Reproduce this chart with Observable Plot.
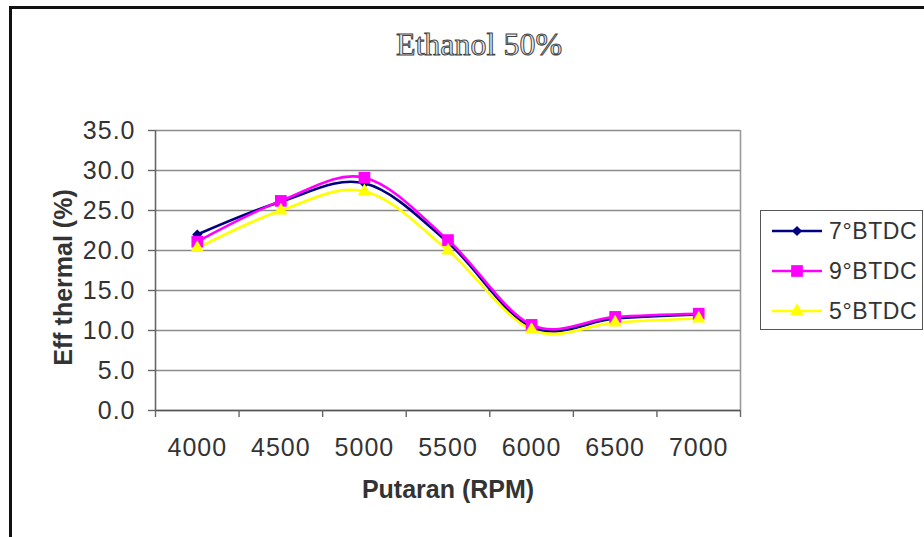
<!DOCTYPE html>
<html>
<head>
<meta charset="utf-8">
<script src="https://cdn.jsdelivr.net/npm/d3@7"></script>
<script src="https://cdn.jsdelivr.net/npm/@observablehq/plot@0.6"></script>
<style>
  html, body { margin: 0; padding: 0; background: #fff; }
  #wrap { position: relative; width: 924px; height: 537px; overflow: hidden; font-family: "Liberation Sans", Arial, sans-serif; }
  #border { position: absolute; left: 9px; top: 6px; width: 940px; height: 560px; border-left: 3px solid #111; border-top: 3px solid #111; }
  #title { position: absolute; left: 0; width: 958px; top: 26px; text-align: center; font-family: "Liberation Serif", "DejaVu Serif", serif; font-size: 32px; color: #eee; -webkit-text-stroke: 1px #444; }
  #chart { position: absolute; left: 0; top: 0; }
  #legend { position: absolute; left: 760px; top: 210px; width: 161px; height: 118px; border: 1.5px solid #555; background: #fff; }
  #legend .row { position: absolute; left: 0; height: 40px; display: flex; align-items: center; }
  #legend .row span { font-size: 23px; color: #333; margin-left: 4px; letter-spacing: 0.6px; }
</style>
</head>
<body>
<div id="wrap">
  <div id="border"></div>
  <div id="chart"></div>
  <div id="title">Ethanol 50%</div>
  <div id="legend"></div>
</div>
<script>
// ---- data ----
const rpm = [4000, 4500, 5000, 5500, 6000, 6500, 7000];
const btdc7 = [22.0, 26.1, 28.4, 21.0, 10.4, 11.5, 12.0];
const btdc9 = [21.1, 26.2, 29.1, 21.3, 10.7, 11.7, 12.1];
const btdc5 = [20.3, 25.0, 27.4, 20.0, 10.1, 11.0, 11.5];
const seriesNames = ["7°BTDC", "9°BTDC", "5°BTDC"];
const seriesColors = ["#000080", "#FF00FF", "#FFFF00"];
const seriesSymbols = ["diamond2", "square", "triangle"];
const seriesR = [4.6, 6.6, 5.0];
const yTicks = [0, 5, 10, 15, 20, 25, 30, 35];
const titleText = "Ethanol 50%";
const yLabel = "Eff thermal (%)";
const xLabel = "Putaran (RPM)";

const seriesValues = [btdc7, btdc9, btdc5];
const rows = [];
seriesNames.forEach((name, i) => {
  rpm.forEach((r, j) => rows.push({series: name, rpm: r, value: seriesValues[i][j]}));
});
const half = (rpm[1] - rpm[0]) / 2;
const xEdges = rpm.map(d => d - half).concat([rpm[rpm.length - 1] + half]);

const marks = [
  Plot.ruleY(yTicks, {stroke: "#8a8a8a", strokeWidth: 1.6}),
  Plot.ruleX([xEdges[xEdges.length - 1]], {stroke: "#9a9a9a", strokeWidth: 1.6}),
  Plot.ruleX([xEdges[0]], {stroke: "#666", strokeWidth: 1.6}),
  Plot.ruleY([0], {stroke: "#555", strokeWidth: 1.6}),
  Plot.axisY({ticks: yTicks, tickFormat: d => d.toFixed(1), tickSize: 7, tickPadding: 13, fontSize: 25, stroke: "#666", strokeWidth: 1.4, fill: "#333", label: null}),
  Plot.axisX({ticks: xEdges, tickFormat: () => "", tickSize: 7, stroke: "#666", strokeWidth: 1.4, label: null}),
  Plot.axisX({ticks: rpm, tickFormat: d => String(d), tickSize: 0, tickPadding: 28, fontSize: 25, fill: "#333", label: null}),
  Plot.text([yLabel], {frameAnchor: "left", textAnchor: "middle", dx: -92, dy: 7, rotate: -90, fontSize: 25, fontWeight: "bold", fill: "#333"}),
  Plot.text([xLabel], {frameAnchor: "bottom", lineAnchor: "middle", dy: 79, fontSize: 25, fontWeight: "bold", fill: "#333"})
];
seriesNames.forEach((name, i) => {
  marks.push(Plot.line(rows.filter(d => d.series === name), {x: "rpm", y: "value", stroke: seriesColors[i], strokeWidth: 2.6, curve: "cardinal"}));
});
seriesNames.forEach((name, i) => {
  marks.push(Plot.dot(rows.filter(d => d.series === name), {x: "rpm", y: "value", symbol: () => seriesSymbols[i], r: seriesR[i], fill: seriesColors[i], stroke: "none"}));
});

const chart = Plot.plot({
  width: 924,
  height: 537,
  marginLeft: 155,
  marginRight: 184,
  marginTop: 130,
  marginBottom: 127,
  x: {type: "linear", domain: [xEdges[0], xEdges[xEdges.length - 1]]},
  y: {domain: [0, 35]},
  symbol: {type: "identity"},
  style: {fontFamily: "'Liberation Sans', Arial, sans-serif", background: "transparent", overflow: "visible"},
  marks
});
d3.select(chart).selectAll('g[aria-label="y-axis tick label"], g[aria-label="x-axis tick label"]').style("letter-spacing", "1px");
document.getElementById("chart").appendChild(chart);

// legend
const legend = document.getElementById("legend");
const symPaths = {
  diamond2: d3.symbol(d3.symbolDiamond2, Math.PI * 4.6 * 4.6)(),
  square: d3.symbol(d3.symbolSquare, Math.PI * 6.6 * 6.6)(),
  triangle: d3.symbol(d3.symbolTriangle, Math.PI * 5 * 5)()
};
seriesNames.forEach((name, i) => {
  const row = document.createElement("div");
  row.className = "row";
  row.style.top = (i * 40) + "px";
  row.innerHTML = `<svg width="56" height="40" style="margin-left:8px"><line x1="3" x2="53" y1="20" y2="20" stroke="${seriesColors[i]}" stroke-width="2.6"/><path transform="translate(28,20)" d="${symPaths[seriesSymbols[i]]}" fill="${seriesColors[i]}"/></svg><span>${name}</span>`;
  legend.appendChild(row);
});
document.getElementById("title").textContent = titleText;
</script>
</body>
</html>
